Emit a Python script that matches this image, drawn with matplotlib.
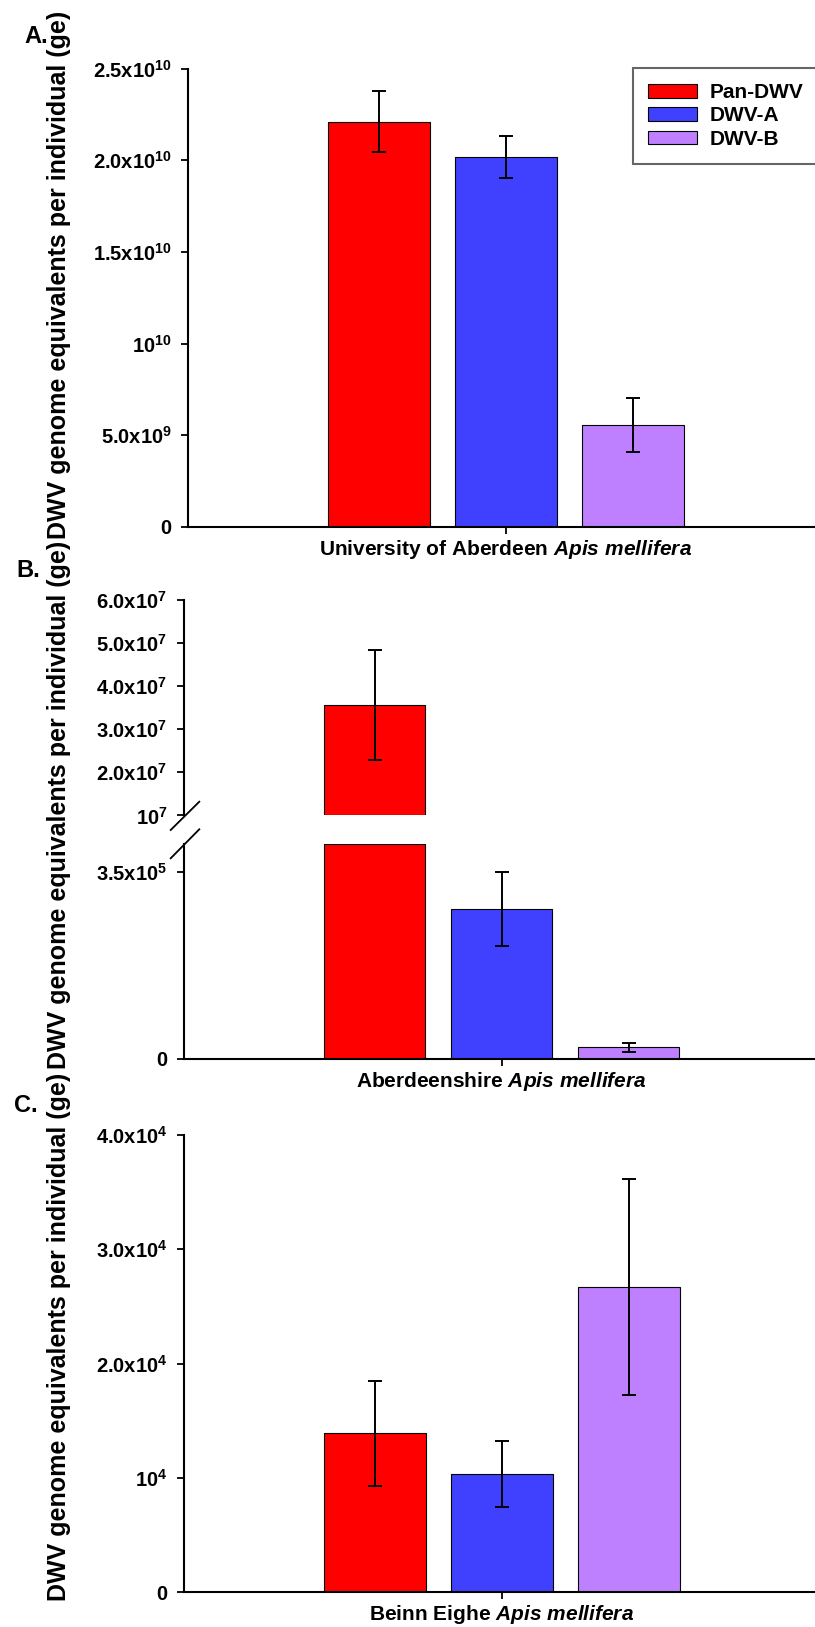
import matplotlib
matplotlib.use("Agg")
from matplotlib import pyplot as plt
from matplotlib.lines import Line2D
import numpy as np

plt.rcParams['font.family'] = ['Liberation Sans', 'DejaVu Sans']
plt.rcParams['font.weight'] = 'bold'
plt.rcParams['mathtext.fontset'] = 'custom'
plt.rcParams['mathtext.default'] = 'bf'
plt.rcParams['mathtext.rm'] = 'Liberation Sans:bold'
plt.rcParams['mathtext.bf'] = 'Liberation Sans:bold'
plt.rcParams['mathtext.it'] = 'Liberation Sans:italic:bold'

###########################################################################
# data (DWV genome equivalents per individual)

series = ['Pan-DWV', 'DWV-A', 'DWV-B']
colors = ['#FF0000', '#4040FF', '#BF80FF']

uni_mean = [2.21e10, 2.017e10, 0.557e10]
uni_err = [0.167e10, 0.116e10, 0.147e10]

shire_mean = [3.56e7, 2.81e5, 2.2e4]
shire_err = [1.27e7, 0.70e5, 0.87e4]

beinn_mean = [1.39e4, 1.03e4, 2.67e4]
beinn_err = [0.46e4, 0.29e4, 0.945e4]

uni_ticks = [0, 5e9, 1e10, 1.5e10, 2e10, 2.5e10]
uni_labels = ['0', r'$5.0\mathrm{x}10^{9}$', r'$10^{10}$', r'$1.5\mathrm{x}10^{10}$',
              r'$2.0\mathrm{x}10^{10}$', r'$2.5\mathrm{x}10^{10}$']

shire_hi_ticks = [1e7, 2e7, 3e7, 4e7, 5e7, 6e7]
shire_hi_labels = [r'$10^{7}$', r'$2.0\mathrm{x}10^{7}$', r'$3.0\mathrm{x}10^{7}$',
                   r'$4.0\mathrm{x}10^{7}$', r'$5.0\mathrm{x}10^{7}$', r'$6.0\mathrm{x}10^{7}$']
shire_lo_ticks = [0, 3.5e5]
shire_lo_labels = ['0', r'$3.5\mathrm{x}10^{5}$']

beinn_ticks = [0, 1e4, 2e4, 3e4, 4e4]
beinn_labels = ['0', r'$10^{4}$', r'$2.0\mathrm{x}10^{4}$', r'$3.0\mathrm{x}10^{4}$', r'$4.0\mathrm{x}10^{4}$']

xlabels = ['University of Aberdeen $\\mathit{Apis\\ mellifera}$',
           'Aberdeenshire $\\mathit{Apis\\ mellifera}$',
           'Beinn Eighe $\\mathit{Apis\\ mellifera}$']
ylabel = 'DWV genome equivalents per individual (ge)'

###########################################################################
W, H = 815, 1627
fig = plt.figure(figsize=(W / 100, H / 100), dpi=100)
fig.patch.set_facecolor('white')

def rect(left, top, bottom, width=635):
    return [left / W, 1 - bottom / H, width / W, (bottom - top) / H]

x = np.arange(3)
bw = 0.8
TS = 14.5

def style(ax, spines=('left', 'bottom')):
    for s in ['top', 'right', 'left', 'bottom']:
        ax.spines[s].set_visible(s in spines)
        ax.spines[s].set_linewidth(1.5)
    ax.tick_params(axis='y', direction='out', length=5, width=1.3, pad=7, labelsize=TS)
    ax.tick_params(axis='x', direction='out', length=5, width=1.3, labelsize=TS)
    ax.set_xlim(-1.5, 3.5)

def xlab(ax, text):
    ax.set_xticks([1])
    ax.set_xticklabels([''])
    ax.annotate(text, xy=(1, 0), xycoords=('data', 'axes fraction'), xytext=(0, -8),
                textcoords='offset points', ha='center', va='top', fontsize=15, fontweight='bold')

ekw = dict(fmt='none', ecolor='black', elinewidth=1.4, capsize=5, capthick=1.4)

# Panel A
axA = fig.add_axes(rect(188.3, 68.6, 526.8))
bars = axA.bar(x, uni_mean, bw, color=colors, edgecolor='black', linewidth=0.8, zorder=2)
axA.errorbar(x, uni_mean, yerr=uni_err, zorder=3, **ekw)
axA.set_ylim(0, 2.5e10)
axA.set_yticks(uni_ticks)
axA.set_yticklabels(uni_labels)
style(axA)
xlab(axA, xlabels[0])

# Panel B (broken axis)
brk = 1e7
lo_top = 4.03e5
axBh = fig.add_axes(rect(184, 599.6, 815.4))
axBl = fig.add_axes(rect(184, 844, 1059))
for i in range(3):
    if shire_mean[i] > brk:
        axBh.bar(x[i], shire_mean[i] - brk, bw, bottom=brk, color=colors[i],
                 edgecolor='black', linewidth=0.8, zorder=2)
        axBh.errorbar(x[i], shire_mean[i], yerr=shire_err[i], zorder=3, **ekw)
    else:
        axBl.errorbar(x[i], shire_mean[i], yerr=shire_err[i], zorder=3, **ekw)
axBl.bar(x, np.minimum(shire_mean, lo_top), bw, color=colors, edgecolor='black',
         linewidth=0.8, zorder=2)
axBh.set_ylim(brk, 6e7)
axBh.set_yticks(shire_hi_ticks)
axBh.set_yticklabels(shire_hi_labels)
style(axBh, spines=('left',))
axBh.set_xticks([])
axBl.set_ylim(0, lo_top)
axBl.set_yticks(shire_lo_ticks)
axBl.set_yticklabels(shire_lo_labels)
style(axBl)
xlab(axBl, xlabels[1])

# break marks
for (x0, y0, x1, y1) in [(170.7, 830, 199.3, 801.7), (170.7, 858.3, 199.3, 829.3)]:
    fig.add_artist(Line2D([x0 / W, x1 / W], [1 - y0 / H, 1 - y1 / H], color='black', lw=1.3))

# Panel C
axC = fig.add_axes(rect(184.3, 1135, 1592))
axC.bar(x, beinn_mean, bw, color=colors, edgecolor='black', linewidth=0.8, zorder=2)
axC.errorbar(x, beinn_mean, yerr=beinn_err, zorder=3, **ekw)
axC.set_ylim(0, 4e4)
axC.set_yticks(beinn_ticks)
axC.set_yticklabels(beinn_labels)
style(axC)
xlab(axC, xlabels[2])

# y labels and panel letters
for yc in [275, 805, 1337]:
    fig.text(59 / W, 1 - yc / H, ylabel, rotation=90, ha='center', va='center',
             fontsize=18, fontweight='bold')
for lab, lx, ly in [('A.', 24, 43), ('B.', 16, 577), ('C.', 14, 1111.7)]:
    fig.text(lx / W, 1 - ly / H, lab, ha='left', va='baseline', fontsize=17, fontweight='bold')

leg = fig.legend(bars, series, loc='upper left', bbox_to_anchor=(632.7 / W, 1 - 67.7 / H),
                 borderaxespad=0, fontsize=15, frameon=True, fancybox=False,
                 handlelength=2.36, handleheight=0.63, handletextpad=0.6,
                 labelspacing=0.2, borderpad=0.75)
leg.get_frame().set_edgecolor('#404040')
leg.get_frame().set_linewidth(1.5)
for t in leg.get_texts():
    t.set_fontweight('bold')

plt.savefig('out.png', dpi=100)
